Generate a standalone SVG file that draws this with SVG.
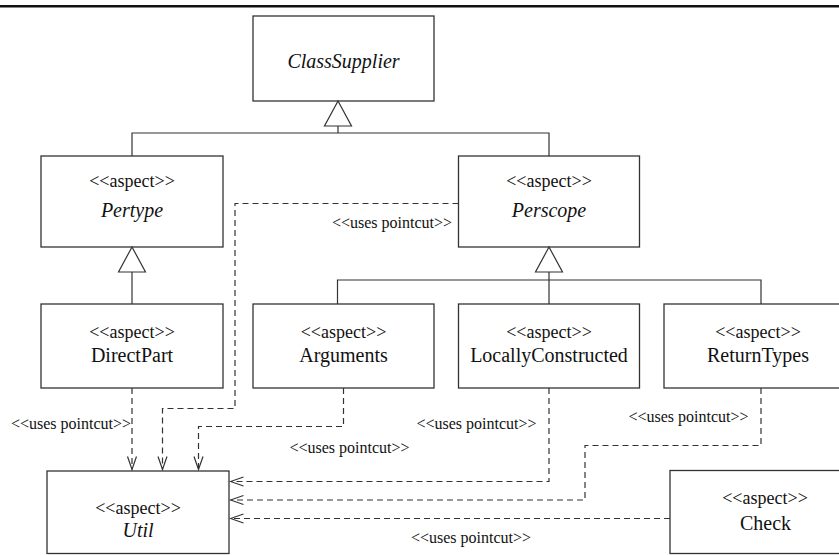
<svg xmlns="http://www.w3.org/2000/svg" width="839" height="555" viewBox="0 0 839 555" font-family="'Liberation Serif', 'Times New Roman', serif">
  <style>
    .box { fill: #fff; stroke: #333; stroke-width: 1.3; }
    .gen { fill: none; stroke: #333; stroke-width: 1.2; }
    .tri { fill: #fff; stroke: #333; stroke-width: 1.2; }
    .dep { fill: none; stroke: #333; stroke-width: 1.2; stroke-dasharray: 6 4; marker-end: url(#open); }
    text { font-family: 'Liberation Serif', 'Times New Roman', serif; fill: #111; text-anchor: middle; }
    .st { font-size: 18px; }
    .nm { font-size: 20px; }
    .it { font-size: 20px; font-style: italic; }
    .lb { font-size: 16px; }
  </style>
  <defs>
    <!-- open arrowhead for the dashed dependencies -->
    <marker id="open" markerUnits="userSpaceOnUse" viewBox="-14 -6 16 12" refX="0" refY="0" markerWidth="16" markerHeight="12" orient="auto">
      <path d="M-13,-4.5 L0,0 L-13,4.5" fill="none" stroke="#333" stroke-width="1.2"/>
    </marker>
  </defs>

  <!-- rule across the top -->
  <rect x="0" y="5" width="839" height="2.5" fill="#111"/>

  <g id="ClassSupplier">
    <rect class="box" x="253" y="16" width="181" height="85"/>
    <text class="it" x="343.5" y="68">ClassSupplier</text>
  </g>

  <g id="Pertype">
    <rect class="box" x="41" y="156" width="182" height="91"/>
    <text class="st" x="132" y="187">&lt;&lt;aspect&gt;&gt;</text>
    <text class="it" x="132" y="217">Pertype</text>
  </g>

  <g id="Perscope">
    <rect class="box" x="458.5" y="156" width="181" height="91"/>
    <text class="st" x="549" y="187">&lt;&lt;aspect&gt;&gt;</text>
    <text class="it" x="549" y="217">Perscope</text>
  </g>

  <g id="DirectPart">
    <rect class="box" x="41" y="304" width="182" height="84"/>
    <text class="st" x="132" y="337.5">&lt;&lt;aspect&gt;&gt;</text>
    <text class="nm" x="132" y="362">DirectPart</text>
  </g>

  <g id="Arguments">
    <rect class="box" x="253" y="304" width="181" height="84"/>
    <text class="st" x="343.5" y="337.5">&lt;&lt;aspect&gt;&gt;</text>
    <text class="nm" x="343.5" y="362">Arguments</text>
  </g>

  <g id="LocallyConstructed">
    <rect class="box" x="458.5" y="304" width="181" height="84"/>
    <text class="st" x="549" y="337.5">&lt;&lt;aspect&gt;&gt;</text>
    <text class="nm" x="549" y="362">LocallyConstructed</text>
  </g>

  <g id="ReturnTypes">
    <rect class="box" x="664" y="304" width="185" height="84"/>
    <text class="st" x="758" y="337.5">&lt;&lt;aspect&gt;&gt;</text>
    <text class="nm" x="758" y="362">ReturnTypes</text>
  </g>

  <g id="Util">
    <rect class="box" x="47" y="471" width="182" height="82.5"/>
    <text class="st" x="138" y="514">&lt;&lt;aspect&gt;&gt;</text>
    <text class="it" x="138" y="537">Util</text>
  </g>

  <g id="Check">
    <rect class="box" x="670" y="470.5" width="180" height="83"/>
    <text class="st" x="765" y="503.5">&lt;&lt;aspect&gt;&gt;</text>
    <text class="nm" x="765.5" y="530">Check</text>
  </g>

  <g id="connectors">
    <!-- generalization: Pertype, Perscope -> ClassSupplier -->
    <path class="gen" d="M338,126 V133 M132,156 V133 H549 V156"/>
    <polygon class="tri" points="338,101 324.5,126 351.5,126"/>
    <!-- generalization: DirectPart -> Pertype -->
    <path class="gen" d="M132,272 V304"/>
    <polygon class="tri" points="132,247 118.5,272 145.5,272"/>
    <!-- generalization: Arguments, LocallyConstructed, ReturnTypes -> Perscope -->
    <path class="gen" d="M549,272 V304 M337.5,304 V280 H761 V304"/>
    <polygon class="tri" points="549,247 535.5,272 562.5,272"/>

    <!-- uses pointcut dependencies on Util -->
    <path class="dep" d="M458.5,203.5 H235 V408.5 H162.5 V469.5"/>
    <path class="dep" d="M132,388 V469.5"/>
    <path class="dep" d="M343.5,388 V426.5 H198.5 V469.5"/>
    <path class="dep" d="M549,388 V481.5 H230.5"/>
    <path class="dep" d="M761,388 V445.5 H585 V500 H230.5"/>
    <path class="dep" d="M670,518.5 H230.5"/>

    <text class="lb" x="392" y="228">&lt;&lt;uses pointcut&gt;&gt;</text>
    <text class="lb" x="71" y="429">&lt;&lt;uses pointcut&gt;&gt;</text>
    <text class="lb" x="349.5" y="452.5">&lt;&lt;uses pointcut&gt;&gt;</text>
    <text class="lb" x="476.5" y="429">&lt;&lt;uses pointcut&gt;&gt;</text>
    <text class="lb" x="688.5" y="422">&lt;&lt;uses pointcut&gt;&gt;</text>
    <text class="lb" x="471" y="543">&lt;&lt;uses pointcut&gt;&gt;</text>
  </g>
</svg>
